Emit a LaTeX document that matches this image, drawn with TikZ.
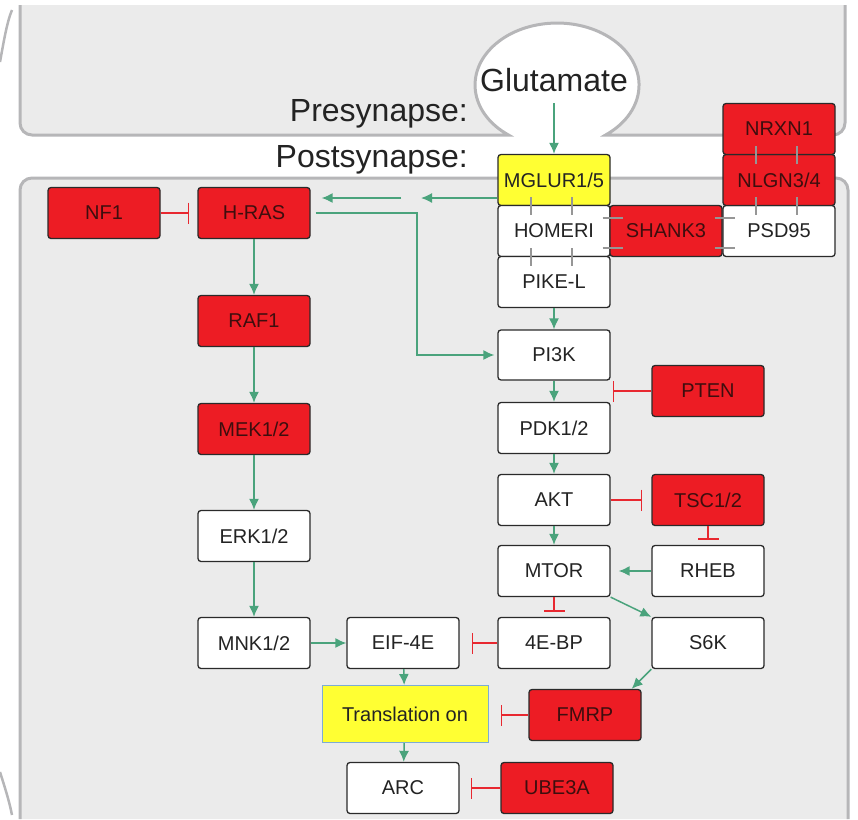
\documentclass[tikz,border=0pt]{standalone}
\usepackage{fontspec}
\setmainfont{Liberation Sans}
\usetikzlibrary{arrows.meta}

\definecolor{panelgrey}{RGB}{235,235,235}
\definecolor{panelline}{RGB}{182,182,184}
\definecolor{genered}{RGB}{237,28,36}
\definecolor{geneyellow}{RGB}{255,255,51}
\definecolor{actgreen}{RGB}{74,163,124}
\definecolor{inhred}{RGB}{232,40,48}
\definecolor{boxline}{RGB}{42,42,42}
\definecolor{tickgrey}{RGB}{150,150,150}
\definecolor{labeltext}{RGB}{35,35,35}
\definecolor{redtext}{RGB}{62,14,14}
\definecolor{transline}{RGB}{125,172,212}

\tikzset{
  gene/.style={draw=boxline, line width=1.3pt, rounded corners=3pt,
    minimum width=112pt, minimum height=51pt, inner sep=0pt,
    text=labeltext, font=\fontsize{20}{24}\selectfont},
  mutgene/.style={gene, fill=genered, text=redtext},
  normgene/.style={gene, fill=white},
  recgene/.style={gene, fill=geneyellow},
  act/.style={draw=actgreen, line width=1.5pt, -{Latex[length=11pt,width=10pt]}},
  inh/.style={draw=inhred, line width=1.5pt, -{Bar[width=21pt,line width=1.5pt]}},
  bind/.style={draw=tickgrey, line width=1.3pt},
  side/.style={font=\fontsize{32}{38}\selectfont, text=labeltext, inner sep=0pt}
}

\begin{document}
\begin{tikzpicture}[x=1pt,y=1pt]
\useasboundingbox (0,0) rectangle (858,-819);
%presynapse with the glutamate vesicle
\fill[panelgrey] (20,-5) -- (20,-123) arc[start angle=180,end angle=270,radius=12]
  -- (508.5,-135) arc[start angle=233.7,end angle=-53.7,x radius=82,y radius=62]
  -- (833,-135) arc[start angle=270,end angle=360,radius=12] -- (845,-5) -- cycle;
\draw[panelline, line width=3pt] (20,-5) -- (20,-123) arc[start angle=180,end angle=270,radius=12]
  -- (508.5,-135) arc[start angle=233.7,end angle=-53.7,x radius=82,y radius=62]
  -- (833,-135) arc[start angle=270,end angle=360,radius=12] -- (845,-5);
%postsynapse
\fill[panelgrey] (20,-819) -- (20,-190) arc[start angle=180,end angle=90,radius=12]
  -- (836,-178) arc[start angle=90,end angle=0,radius=12] -- (848,-819) -- cycle;
\draw[panelline, line width=3pt] (20,-819) -- (20,-190) arc[start angle=180,end angle=90,radius=12]
  -- (836,-178) arc[start angle=90,end angle=0,radius=12] -- (848,-819);
%neighbouring cells
\draw[panelline, line width=2.5pt] (0,-62) .. controls (4,-40) and (7,-22) .. (12,-10);
\draw[panelline, line width=2.5pt] (0,-772) .. controls (5,-788) and (9,-800) .. (12,-815);

%labels
\node[side, anchor=base east] (pre) at (468,-121) {Presynapse:};
\node[side, anchor=base east] (post) at (468,-167) {Postsynapse:};
\node[side] (glu) at (554,-80) {Glutamate};
\coordinate (gluout) at (554,-103);

%receptor complex
\node[recgene] (mglur) at (554,-180) {MGLUR1/5};
\node[normgene] (homer) at (554,-231) {HOMERI};
\node[normgene] (pikel) at (554,-282) {PIKE-L};
\node[mutgene] (shank) at (666,-231) {SHANK3};
\node[normgene] (psd) at (779,-231) {PSD95};
\node[mutgene] (nlgn) at (779,-180) {NLGN3/4};
\node[mutgene] (nrxn) at (779,-129) {NRXN1};

%ERK branch
\node[mutgene] (nf1) at (104,-213) {NF1};
\node[mutgene] (hras) at (254,-213) {H-RAS};
\node[mutgene] (raf1) at (254,-321) {RAF1};
\node[mutgene] (mek) at (254,-429) {MEK1/2};
\node[normgene] (erk) at (254,-536) {ERK1/2};
\node[normgene] (mnk) at (254,-643) {MNK1/2};

%mTOR branch
\node[normgene, minimum height=50pt] (pi3k) at (554,-355) {PI3K};
\node[mutgene] (pten) at (708,-391) {PTEN};
\node[normgene] (pdk) at (554,-428) {PDK1/2};
\node[normgene] (akt) at (554,-500) {AKT};
\node[mutgene] (tsc) at (708,-500) {TSC1/2};
\node[normgene] (mtor) at (554,-571) {MTOR};
\node[normgene] (rheb) at (708,-571) {RHEB};
\node[normgene] (bp) at (554,-643) {4E-BP};
\node[normgene] (s6k) at (708,-643) {S6K};

%translation
\node[normgene] (eif) at (403,-643) {EIF-4E};
\node[gene, fill=geneyellow, draw=transline, line width=1pt, rounded corners=0pt,
  minimum width=166pt, minimum height=57pt] (trans) at (405,-714) {Translation on};
\node[mutgene] (fmrp) at (585,-715) {FMRP};
\node[normgene] (arc) at (403,-788) {ARC};
\node[mutgene] (ube) at (557,-788) {UBE3A};

%binding ticks
\foreach \g in {mglur, homer, nrxn, nlgn}
  \foreach \dx in {-23,18}
    \draw[bind] ([xshift=\dx pt, yshift=9pt]\g.south) -- ([xshift=\dx pt, yshift=-9pt]\g.south);
\foreach \g in {homer, shank}
  \foreach \dy in {13,-17}
    \draw[bind] ([xshift=-8pt, yshift=\dy pt]\g.east) -- ([xshift=12pt, yshift=\dy pt]\g.east);

%activation
\draw[act] (gluout) -- (mglur.north);
\coordinate (relay1) at (421,-198);
\coordinate (relay2) at (401,-198);
\draw[act] (mglur.west |- relay1) -- (relay1);
\draw[act, shorten >=11pt] (relay2) -- (hras.east |- relay2);
\coordinate (bend) at (417,-213);
\draw[act, shorten <=5pt, shorten >=3pt] (hras.east) -- (bend) |- (pi3k.west);
\draw[act] (hras) -- (raf1);
\draw[act] (raf1) -- (mek);
\draw[act] (mek) -- (erk);
\draw[act] (erk) -- (mnk);
\draw[act] (mnk) -- (eif);
\draw[act] (pikel) -- (pi3k);
\draw[act] (pi3k) -- (pdk);
\draw[act] (pdk) -- (akt);
\draw[act] (akt) -- (mtor);
\draw[act, shorten >=8pt] (rheb) -- (mtor);
\draw[act] (mtor.south east) -- (s6k.north west);
\draw[act] (s6k.south west) -- ([xshift=-10pt]fmrp.north east);
\draw[act] (eif) -- (trans);
\draw[act] (trans) -- (arc);

%inhibition
\draw[inh, shorten >=8pt] (nf1) -- (hras);
\draw[inh, shorten >=2pt] (pten.west) -- (pten.west -| pi3k.east);
\draw[inh, shorten >=9pt] (akt) -- (tsc);
\draw[inh, shorten >=5pt] (tsc) -- (rheb);
\draw[inh, shorten >=5pt] (mtor) -- (bp);
\draw[inh, shorten >=12pt] (bp) -- (eif);
\draw[inh, shorten >=12pt] (fmrp.west) -- (fmrp.west -| trans.east);
\draw[inh, shorten >=11pt] (ube) -- (arc);
\end{tikzpicture}
\end{document}
